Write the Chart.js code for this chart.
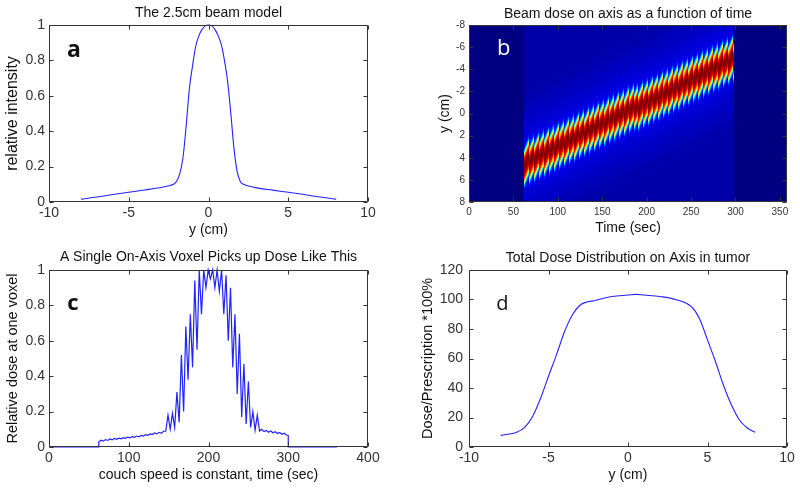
<!DOCTYPE html>
<html>
<head>
<meta charset="utf-8">
<script src="https://cdn.jsdelivr.net/npm/chart.js@4.4.1/dist/chart.umd.min.js"></script>
<style>
  html, body { margin: 0; padding: 0; background: #fff; }
  #fig { position: relative; width: 800px; height: 490px; }
  #fig canvas { position: absolute; }
</style>
</head>
<body>
<div id="fig">
  <canvas id="beam" width="400" height="245" style="left:0;top:0"></canvas>
  <canvas id="dosemap" width="400" height="245" style="left:400px;top:0"></canvas>
  <canvas id="voxel" width="400" height="245" style="left:0;top:245px"></canvas>
  <canvas id="total" width="400" height="245" style="left:400px;top:245px"></canvas>
</div>
<script>
// (a) beam profile, y in cm vs relative intensity
const beamY = [-8, -7, -6, -5, -4, -3, -2.5, -2.2, -2, -1.8, -1.6, -1.4, -1.2, -1, -0.8, -0.6, -0.4, -0.2, 0,
               0.2, 0.4, 0.6, 0.8, 1, 1.2, 1.4, 1.6, 1.8, 2, 2.2, 2.5, 3, 4, 5, 6, 7, 8];
const beamI = [0.016, 0.028, 0.042, 0.055, 0.068, 0.082, 0.092, 0.1, 0.117, 0.16, 0.25, 0.43, 0.64, 0.77, 0.88, 0.94, 0.975, 0.995, 1.0,
               0.995, 0.975, 0.94, 0.89, 0.8, 0.68, 0.5, 0.3, 0.17, 0.115, 0.1, 0.09, 0.08, 0.067, 0.055, 0.042, 0.028, 0.016];

// (b) beam on/off times (sec), band centre y at on/off (cm), helical ripple,
// and the low dose level seen everywhere while the beam is on
const couchOn = [62, 298];
const bandCenterY = [4.5, -5.0];
const ripplePeriod = 5.6;
const rippleAmp = 0.9;
const beamOnFloor = 0.04;

// (c) dose picked up by one voxel on axis
const voxelT = [0, 62,
  62.4, 65.2, 68.0, 70.8, 73.6, 76.4, 79.2, 82.0, 84.8, 87.6,
  90.4, 93.2, 96.0, 98.8, 101.6, 104.4, 107.2, 110.0, 112.8, 115.6,
  118.4, 121.2, 124.0, 126.8, 129.6, 132.4, 135.2, 138.0, 140.8, 143.6,
  146.4, 149.2, 152.0, 154.8, 157.6, 160.4, 163.2, 166.0, 168.8, 171.6,
  174.4, 177.2, 180.0, 182.8, 185.6, 188.4, 191.2, 194.0, 196.8, 199.6,
  202.4, 205.2, 208.0, 210.8, 213.6, 216.4, 219.2, 222.0, 224.8, 227.6,
  230.4, 233.2, 236.0, 238.8, 241.6, 244.4, 247.2, 250.0, 252.8, 255.6,
  258.4, 261.2, 264.0, 266.8, 269.6, 272.4, 275.2, 278.0, 280.8, 283.6,
  286.4, 289.2, 292.0, 294.8, 297.6, 300.0,
  300.0, 361];
const voxelV = [0, 0,
  0.028, 0.038, 0.033, 0.042, 0.037, 0.045, 0.040, 0.048, 0.043, 0.050,
  0.046, 0.053, 0.049, 0.056, 0.052, 0.059, 0.055, 0.062, 0.058, 0.066,
  0.062, 0.070, 0.066, 0.074, 0.070, 0.079, 0.074, 0.083, 0.078, 0.089,
  0.09, 0.18, 0.10, 0.19, 0.11, 0.31, 0.14, 0.52, 0.20, 0.68,
  0.38, 0.75, 0.45, 0.94, 0.55, 1.0, 0.75, 1.0, 0.90, 1.0,
  0.95, 1.0, 0.90, 1.0, 0.88, 1.0, 0.75, 0.97, 0.60, 0.90,
  0.45, 0.75, 0.30, 0.64, 0.17, 0.47, 0.13, 0.37, 0.11, 0.20,
  0.095, 0.18, 0.09, 0.10, 0.087, 0.094, 0.083, 0.09, 0.08, 0.086,
  0.076, 0.082, 0.072, 0.078, 0.068, 0.065,
  0, 0];

// (d) total dose on axis
const doseY = [-8, -7, -6.5, -6, -5.5, -5, -4.5, -4, -3.5, -3, -2, -1, 0, 0.5, 1, 2, 3, 4, 4.5, 5, 5.5, 6, 6.5, 7, 7.5, 8];
const doseV = [7.9, 10, 13.3, 20.7, 33, 48, 62.5, 78, 89.5, 96.3, 99.5, 102, 103, 103.5, 103, 102, 100, 95, 87, 72.6, 58, 42, 28.6, 18.5, 12.9, 10];

Chart.defaults.font.family = "'Liberation Sans', Arial, sans-serif";
Chart.defaults.color = '#333';

const LINE = '#2222ff';

// matlab style box with inward ticks on all four sides
const matlabBox = {
  id: 'matlabBox',
  afterDatasetsDraw(chart) {
    const {ctx, chartArea: a, scales: {x, y}} = chart;
    const L = Math.round(a.left) + 0.5, R = Math.round(a.right) - 0.5;
    const T = Math.round(a.top) + 0.5, B = Math.round(a.bottom) - 0.5;
    ctx.save();
    ctx.strokeStyle = '#333';
    ctx.lineWidth = 1;
    ctx.beginPath();
    x.ticks.forEach((t, i) => {
      const px = Math.round(x.getPixelForTick(i)) + 0.5;
      ctx.moveTo(px, B); ctx.lineTo(px, B - 4);
      ctx.moveTo(px, T); ctx.lineTo(px, T + 4);
    });
    y.ticks.forEach((t, i) => {
      const py = Math.round(y.getPixelForTick(i)) + 0.5;
      ctx.moveTo(L, py); ctx.lineTo(L + 4, py);
      ctx.moveTo(R, py); ctx.lineTo(R - 4, py);
    });
    ctx.rect(L, T, R - L, B - T);
    ctx.stroke();
    ctx.restore();
  }
};

// panel letter placed in data coordinates
const panelLetter = {
  id: 'panelLetter',
  afterDatasetsDraw(chart, args, opts) {
    if (!opts || !opts.text) return;
    const {ctx, scales: {x, y}} = chart;
    ctx.save();
    ctx.font = opts.font;
    ctx.fillStyle = opts.color;
    ctx.textAlign = 'center';
    ctx.textBaseline = 'alphabetic';
    ctx.fillText(opts.text, x.getPixelForValue(opts.x), y.getPixelForValue(opts.y));
    ctx.restore();
  }
};
Chart.register(matlabBox, panelLetter);

function jet(v) {
  const c = u => Math.max(0, Math.min(1, u));
  return [c(1.5 - Math.abs(4 * v - 3)), c(1.5 - Math.abs(4 * v - 2)), c(1.5 - Math.abs(4 * v - 1))];
}

function beamAt(d) {
  if (d <= beamY[0]) return beamI[0];
  if (d >= beamY[beamY.length - 1]) return beamI[beamI.length - 1];
  for (let i = 1; i < beamY.length; i++) {
    if (d <= beamY[i]) {
      const f = (d - beamY[i - 1]) / (beamY[i] - beamY[i - 1]);
      return beamI[i - 1] + f * (beamI[i] - beamI[i - 1]);
    }
  }
  return 0;
}

// image of beam dose vs time, each pixel looked up through the scales
const heatmap = {
  id: 'heatmap',
  beforeDatasetsDraw(chart) {
    const {ctx, chartArea: a, scales: {x, y}} = chart;
    const x0 = Math.round(a.left), y0 = Math.round(a.top);
    const w = Math.round(a.right) - x0, h = Math.round(a.bottom) - y0;
    const off = document.createElement('canvas');
    off.width = w; off.height = h;
    const octx = off.getContext('2d');
    const img = octx.createImageData(w, h);
    for (let j = 0; j < h; j++) {
      const yv = y.getValueForPixel(y0 + j + 0.5);
      for (let i = 0; i < w; i++) {
        const t = x.getValueForPixel(x0 + i + 0.5);
        let v = 0;
        if (t >= couchOn[0] && t <= couchOn[1]) {
          const f = (t - couchOn[0]) / (couchOn[1] - couchOn[0]);
          const phase = ((t - couchOn[0]) / ripplePeriod) % 1;
          const c = bandCenterY[0] + f * (bandCenterY[1] - bandCenterY[0]) + rippleAmp * (0.5 - phase);
          v = Math.max(beamAt(yv - c), beamOnFloor);
        }
        const rgb = jet(v);
        const k = (j * w + i) * 4;
        img.data[k] = rgb[0] * 255;
        img.data[k + 1] = rgb[1] * 255;
        img.data[k + 2] = rgb[2] * 255;
        img.data[k + 3] = 255;
      }
    }
    octx.putImageData(img, 0, 0);
    ctx.drawImage(off, x0, y0);
  }
};

const plainNumber = v => String(Math.round(v * 1000) / 1000);

function panelOptions(p) {
  return {
    responsive: false,
    animation: false,
    layout: { padding: { left: 0, right: p.padRight, top: 0, bottom: 0 } },
    plugins: {
      legend: { display: false },
      tooltip: { enabled: false },
      title: {
        display: true, text: p.title, fullSize: false, color: '#111',
        font: { size: p.titleSize, weight: 'normal' },
        padding: { top: p.titleTop, bottom: 25 - p.titleSize * 1.2 - p.titleTop }
      },
      panelLetter: p.letter
    },
    scales: {
      x: {
        type: 'linear', min: p.x[0], max: p.x[1],
        grid: { display: false, drawTicks: false },
        border: { display: false },
        ticks: { stepSize: p.x[2], includeBounds: false, autoSkip: false, maxRotation: 0,
                 padding: p.xTickPad, color: '#333', font: { size: p.tickSize }, callback: plainNumber },
        title: { display: true, text: p.xTitle, color: '#111', font: { size: p.xTitleSize },
                 padding: { top: 0, bottom: p.xTitleBottom } },
        afterFit: s => { s.height = 43; }
      },
      y: {
        type: 'linear', min: p.y[0], max: p.y[1], reverse: !!p.reverseY,
        grid: { display: false, drawTicks: false },
        border: { display: false },
        ticks: { stepSize: p.y[2], includeBounds: false, autoSkip: false,
                 padding: p.yTickPad, color: '#333', font: { size: p.tickSize }, callback: plainNumber },
        title: { display: true, text: p.yTitle, color: '#111', font: { size: p.yTitleSize },
                 padding: { top: p.yTitleCenter - p.yTitleSize * 0.6, bottom: 0 } },
        afterFit: s => { s.width = p.yWidth; }
      }
    }
  };
}

function lineData(xs, ys) {
  return xs.map((v, i) => ({ x: v, y: ys[i] }));
}

new Chart(document.getElementById('beam'), {
  type: 'line',
  data: { datasets: [{ data: lineData(beamY, beamI), borderColor: LINE, borderWidth: 1.1,
                       pointRadius: 0, cubicInterpolationMode: 'monotone', clip: 4 }] },
  options: panelOptions({
    title: 'The 2.5cm beam model', titleSize: 14, titleTop: 4.6, padRight: 32, yWidth: 49,
    x: [-10, 10, 5], y: [0, 1, 0.2], tickSize: 14, xTickPad: 3, yTickPad: 4,
    xTitle: 'y (cm)', xTitleSize: 14, xTitleBottom: 6.6,
    yTitle: 'relative intensity', yTitleSize: 16, yTitleCenter: 13,
    letter: { text: 'a', x: -8.43, y: 0.82, font: 'bold 23px "Open Sans"', color: '#111' }
  })
});

new Chart(document.getElementById('dosemap'), {
  type: 'scatter',
  data: { datasets: [] },
  options: panelOptions({
    title: 'Beam dose on axis as a function of time', titleSize: 14, titleTop: 5.6, padRight: 13, yWidth: 69,
    x: [0, 358, 50], y: [-8, 8, 2], reverseY: true, tickSize: 10, xTickPad: 4.5, yTickPad: 4,
    xTitle: 'Time (sec)', xTitleSize: 14, xTitleBottom: 8.6,
    yTitle: 'y (cm)', yTitleSize: 14, yTitleCenter: 45,
    letter: { text: 'b', x: 39, y: -5.3, font: '22px "Open Sans"', color: '#fff' }
  }),
  plugins: [heatmap]
});

new Chart(document.getElementById('voxel'), {
  type: 'line',
  data: { datasets: [{ data: lineData(voxelT, voxelV), borderColor: LINE, borderWidth: 1.2,
                       pointRadius: 0, tension: 0, clip: 4 }] },
  options: panelOptions({
    title: 'A Single On-Axis Voxel Picks up Dose Like This', titleSize: 14, titleTop: 3.6, padRight: 32, yWidth: 49,
    x: [0, 400, 100], y: [0, 1, 0.2], tickSize: 14, xTickPad: 3, yTickPad: 4,
    xTitle: 'couch speed is constant, time (sec)', xTitleSize: 14, xTitleBottom: 6.6,
    yTitle: 'Relative dose at one voxel', yTitleSize: 14.5, yTitleCenter: 13,
    letter: { text: 'c', x: 30, y: 0.774, font: 'bold 22px "Open Sans"', color: '#111' }
  })
});

new Chart(document.getElementById('total'), {
  type: 'line',
  data: { datasets: [{ data: lineData(doseY, doseV), borderColor: LINE, borderWidth: 1.1,
                       pointRadius: 0, cubicInterpolationMode: 'monotone', clip: 4 }] },
  options: panelOptions({
    title: 'Total Dose Distribution on Axis in tumor', titleSize: 14, titleTop: 4.6, padRight: 13, yWidth: 69,
    x: [-10, 10, 5], y: [0, 120, 20], tickSize: 14, xTickPad: 3, yTickPad: 6,
    xTitle: 'y (cm)', xTitleSize: 14, xTitleBottom: 6.6,
    yTitle: 'Dose/Prescription *100%', yTitleSize: 14.5, yTitleCenter: 28,
    letter: { text: 'd', x: -7.9, y: 92.9, font: '20px "Open Sans"', color: '#111' }
  })
});
</script>
</body>
</html>
